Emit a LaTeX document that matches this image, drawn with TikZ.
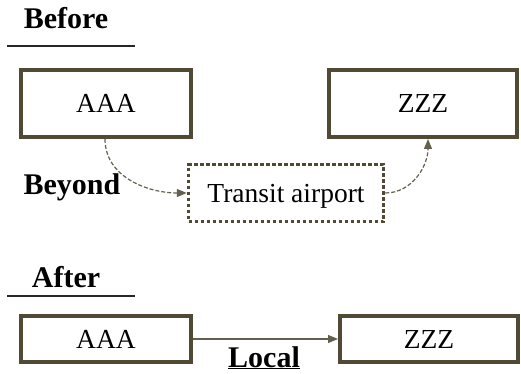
\documentclass[tikz,border=0pt]{standalone}
\usepackage{fontspec}
\setmainfont{Liberation Serif}
\usetikzlibrary{arrows.meta}
\definecolor{boxcol}{RGB}{80,74,52}
\definecolor{arrcol}{RGB}{100,96,78}
\begin{document}
\begin{tikzpicture}[x=1pt,y=-1pt,
  box/.style={draw=boxcol,line width=4pt,rectangle,inner sep=0pt,font=\fontsize{27.5}{30}\selectfont,text depth=0pt},
  dotbox/.style={draw=boxcol,line width=3.5pt,dash pattern=on 3.5pt off 2.5pt,rectangle,inner sep=0pt,font=\fontsize{27.5}{30}\selectfont,text depth=0pt},
  lbl/.style={inner sep=0pt,font=\fontsize{30}{34}\selectfont\bfseries},
  rule/.style={line width=1.5pt,draw=black!85},
  curvearr/.style={draw=arrcol,line width=1.2pt,dash pattern=on 4pt off 2pt,-{Triangle[length=10pt,width=8pt]}},
  straightarr/.style={draw=arrcol,line width=1.2pt,-{Triangle[length=10pt,width=8pt]}}]
\useasboundingbox (0,0) rectangle (521,374);
% Before
\node[lbl] (before) at (66,18) {Before};
\coordinate (bl1) at (7,46);
\coordinate (bl2) at (135,46);
\draw[rule] (bl1) -- (bl2);
\node[box,minimum width=170pt,minimum height=67pt] (a1) at (106,103.5) {AAA};
\node[box,minimum width=188pt,minimum height=67pt] (z1) at (423,103.5) {ZZZ};
\node[dotbox,minimum width=195pt,minimum height=57pt] (t) at (286,193) {Transit airport};
\node[lbl] (beyond) at (72,187) {Beyond};
\draw[curvearr] ([xshift=-1pt]a1.south) to[out=-90,in=180] (t.west);
\draw[curvearr] (t.east) to[out=0,in=-90] ([xshift=5pt]z1.south);
% After
\node[lbl] (after) at (66,277) {After};
\coordinate (al1) at (7,296);
\coordinate (al2) at (135,296);
\draw[rule] (al1) -- (al2);
\node[box,minimum width=170pt,minimum height=46pt] (a2) at (106,339) {AAA};
\node[box,minimum width=178pt,minimum height=46pt] (z2) at (429,339) {ZZZ};
\draw[straightarr] (a2.east) -- (z2.west);
\node[lbl,anchor=base] (local) at (264,367) {\underline{Local}};
\end{tikzpicture}
\end{document}
